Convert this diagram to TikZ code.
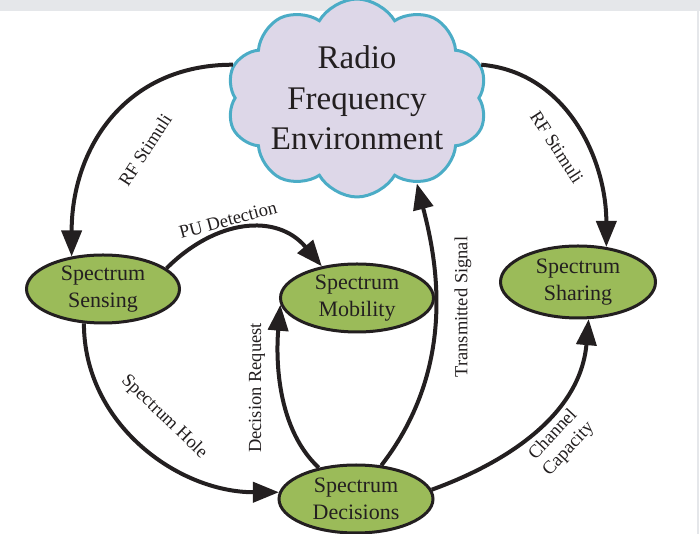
\documentclass[tikz,border=0pt]{standalone}
\usepackage{fontspec}
\setmainfont{Liberation Serif}
\usetikzlibrary{shapes.geometric,shapes.symbols,arrows.meta}
\definecolor{ink}{RGB}{35,31,32}
\definecolor{cloudfill}{RGB}{221,215,232}
\definecolor{cloudline}{RGB}{75,172,198}
\definecolor{stagefill}{RGB}{155,187,89}
\definecolor{bargray}{RGB}{229,231,234}
\tikzset{
  stage/.style={ellipse,draw=ink,line width=3pt,fill=stagefill,text=ink,
    minimum width=153pt,minimum height=68pt,inner sep=0pt,align=center,
    font=\fontsize{22}{27}\selectfont},
  flow/.style={draw=ink,line width=4pt,-{Triangle[length=26pt,width=20pt]}},
  tag/.style={text=ink,inner sep=0pt,align=center,font=\fontsize{18.5}{21}\selectfont},
}
\begin{document}
\begin{tikzpicture}[x=1pt,y=1pt]
        \useasboundingbox (0,0) rectangle (700,534);
        \fill[bargray] (0,523) rectangle (700,534);
        \fill[bargray] (697,0) rectangle (699,523);
        \node[cloud,cloud puffs=10,cloud puff arc=120,aspect=1.5,draw=cloudline,line width=3pt,
          fill=cloudfill,minimum width=245pt,minimum height=158pt,inner sep=0pt,text=ink,
          align=center,font=\fontsize{33}{40.5}\selectfont](env) at (357,436) {Radio\\Frequency\\Environment};
        \node[stage](sens) at (103,245) {Spectrum\\Sensing};
        \node[stage](mob) at (357,236) {Spectrum\\Mobility};
        \node[stage,minimum width=155pt,minimum height=72pt](shar) at (578,252) {Spectrum\\Sharing};
        \node[stage,minimum width=154pt](dec) at (356,35) {Spectrum\\Decisions};
        \node[tag,rotate=57](t1) at (145,384) {RF Stimuli};
        \node[tag,rotate=-57](t2) at (557,387) {RF Stimuli};
        \node[tag,rotate=15](t3) at (228,314) {PU Detection};
        \node[tag,rotate=-44](t4) at (164,117) {Spectrum Hole};
        \node[tag,rotate=90](t5) at (257,146) {Decision Request};
        \node[tag,rotate=90](t6) at (463,227) {Transmitted Signal};
        \node[tag,rotate=47](t7) at (561,92) {Channel\\Capacity};
        \draw[flow](env.165) to[out=180,in=90,looseness=1.1] (sens.134);
        \draw[flow](env.15) to[out=-5,in=90] (shar.51);
        \draw[flow](sens.18) to[out=45,in=130,looseness=1.15] (mob.138);
        \draw[flow](sens.241) to[out=-90,in=180] (dec.175);
        \draw[flow](dec.140) .. controls (272,110) and (277,190) .. (mob.185);
        \draw[flow](dec.53) .. controls (460,170) and (435,280) .. (env.-55);
        \draw[flow](dec.7) to[out=20,in=-95] (shar.-74);
    \end{tikzpicture}
\end{document}
